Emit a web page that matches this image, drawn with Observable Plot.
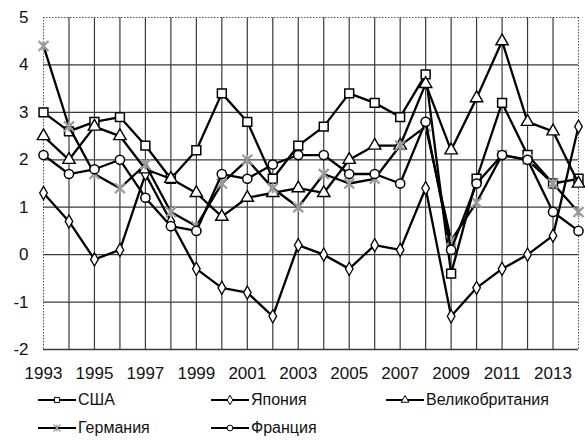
<!DOCTYPE html>
<html><head><meta charset="utf-8">
<script src="https://cdn.jsdelivr.net/npm/d3@7"></script>
<script src="https://cdn.jsdelivr.net/npm/@observablehq/plot@0.6"></script>
<style>
body{margin:0;background:#fff;font-family:"Liberation Sans",Arial,sans-serif;}
#wrap{position:relative;width:585px;height:441px;overflow:hidden;}
.leg{position:absolute;display:flex;align-items:center;font-size:16px;color:#111;height:20px;white-space:nowrap;}
.leg svg{display:block;}
.leg span{margin-left:2px;}
</style></head><body><div id="wrap"><div id="chart"></div></div>
<script>
const years   = [1993,1994,1995,1996,1997,1998,1999,2000,2001,2002,2003,2004,2005,2006,2007,2008,2009,2010,2011,2012,2013,2014];
const usa     = [3.0,2.6,2.8,2.9,2.3,1.6,2.2,3.4,2.8,1.6,2.3,2.7,3.4,3.2,2.9,3.8,-0.4,1.6,3.2,2.1,1.5,1.6];
const japan   = [1.3,0.7,-0.1,0.1,1.7,0.7,-0.3,-0.7,-0.8,-1.3,0.2,0.0,-0.3,0.2,0.1,1.4,-1.3,-0.7,-0.3,0.0,0.4,2.7];
const uk      = [2.5,2.0,2.7,2.5,1.8,1.6,1.3,0.8,1.2,1.3,1.4,1.3,2.0,2.3,2.3,3.6,2.2,3.3,4.5,2.8,2.6,1.5];
const germany = [4.4,2.7,1.7,1.4,1.9,0.9,0.6,1.5,2.0,1.4,1.0,1.7,1.5,1.6,2.3,2.7,0.3,1.1,2.1,2.0,1.5,0.9];
const france  = [2.1,1.7,1.8,2.0,1.2,0.6,0.5,1.7,1.6,1.9,2.1,2.1,1.7,1.7,1.5,2.8,0.1,1.5,2.1,2.0,0.9,0.5];
const seriesNames = ["США","Япония","Великобритания","Германия","Франция"];
const xTicks = [1993,1995,1997,1999,2001,2003,2005,2007,2009,2011,2013];
const yTicks = [-2,-1,0,1,2,3,4,5];

// Excel-like "star" marker: X plus vertical bar
const star = {
  draw(ctx, size) {
    const r = Math.sqrt(size / Math.PI);
    ctx.moveTo(-r, -r); ctx.lineTo(r, r);
    ctx.moveTo(-r, r); ctx.lineTo(r, -r);
    ctx.moveTo(0, -r); ctx.lineTo(0, r);
  }
};

const styles = [
  {symbol:"square",  r:5.0, fill:"#fff", stroke:"#000", sw:1.5},
  {symbol:"diamond", r:4.0, fill:"#fff", stroke:"#000", sw:1.3},
  {symbol:"triangle",r:4.6, fill:"#fff", stroke:"#000", sw:1.4},
  {symbol:star,      r:5.0, fill:"none", stroke:"#9a9a9a", sw:2.2},
  {symbol:"circle",  r:4.6, fill:"#fff", stroke:"#000", sw:1.5}
];
const values = [usa, japan, uk, germany, france];
const tables = values.map((vals, i) => years.map((y, j) => ({year: y, value: vals[j], series: seriesNames[i]})));

const gridColor = "#3a3a3a";
const marks = [
  Plot.ruleX(years.slice(1, -1), {stroke: gridColor, strokeWidth: 1.2}),
  Plot.ruleY(yTicks.slice(1, -1), {stroke: gridColor, strokeWidth: 1.2}),
  Plot.ruleY([5], {stroke: "#555", strokeWidth: 1, strokeDasharray: "1.5,1.5"}),
  Plot.ruleX([1993, 2014], {stroke: "#555", strokeWidth: 1, strokeDasharray: "1.5,1.5"}),
  Plot.ruleY([-2], {stroke: gridColor, strokeWidth: 1.3}),
  Plot.axisX({ticks: xTicks, tickSize: 0, tickPadding: 17, tickFormat: d => String(d), fontSize: 17, label: null, fill: "#111"}),
  Plot.axisY({ticks: yTicks, tickSize: 0, tickPadding: 15, tickFormat: d => String(d), fontSize: 17, label: null, fill: "#111"})
];
tables.forEach((t, i) => {
  const s = styles[i];
  marks.push(Plot.line(t, {x: "year", y: "value", stroke: "#000", strokeWidth: 2.3}));
  marks.push(Plot.dot(t, {x: "year", y: "value", symbol: s.symbol, r: s.r, fill: s.fill, stroke: s.stroke, strokeWidth: s.sw}));
});

const chart = Plot.plot({
  width: 585,
  height: 385,
  marginTop: 17,
  marginBottom: 36,
  marginLeft: 43,
  marginRight: 7,
  style: {fontFamily: "Liberation Sans, Arial, sans-serif", background: "#fff"},
  x: {domain: [1993, 2014], type: "linear"},
  y: {domain: [-2, 5]},
  marks
});
document.getElementById("chart").appendChild(chart);

// Legend
const legPos = [
  {x: 38, y: 400}, {x: 211, y: 400}, {x: 386, y: 400},
  {x: 38, y: 428}, {x: 211, y: 428}
];
const legSym = {square: d3.symbolSquare, diamond: d3.symbolDiamond, triangle: d3.symbolTriangle, circle: d3.symbolCircle};
const wrap = document.getElementById("wrap");
seriesNames.forEach((name, i) => {
  const s = styles[i];
  const div = document.createElement("div");
  div.className = "leg";
  div.style.left = legPos[i].x + "px";
  div.style.top = (legPos[i].y - 10) + "px";
  const svg = d3.create("svg").attr("width", 38).attr("height", 20);
  svg.append("line").attr("x1", 0).attr("x2", 38).attr("y1", 10).attr("y2", 10).attr("stroke", "#000").attr("stroke-width", 2);
  const type = typeof s.symbol === "string" ? legSym[s.symbol] : s.symbol;
  svg.append("path").attr("transform", "translate(19,10)")
    .attr("d", d3.symbol(type, i === 3 ? 38 : 26)())
    .attr("fill", s.fill).attr("stroke", s.stroke).attr("stroke-width", i === 3 ? 1.2 : 1);
  div.appendChild(svg.node());
  const span = document.createElement("span");
  span.textContent = name;
  div.appendChild(span);
  wrap.appendChild(div);
});
</script>
</body></html>
